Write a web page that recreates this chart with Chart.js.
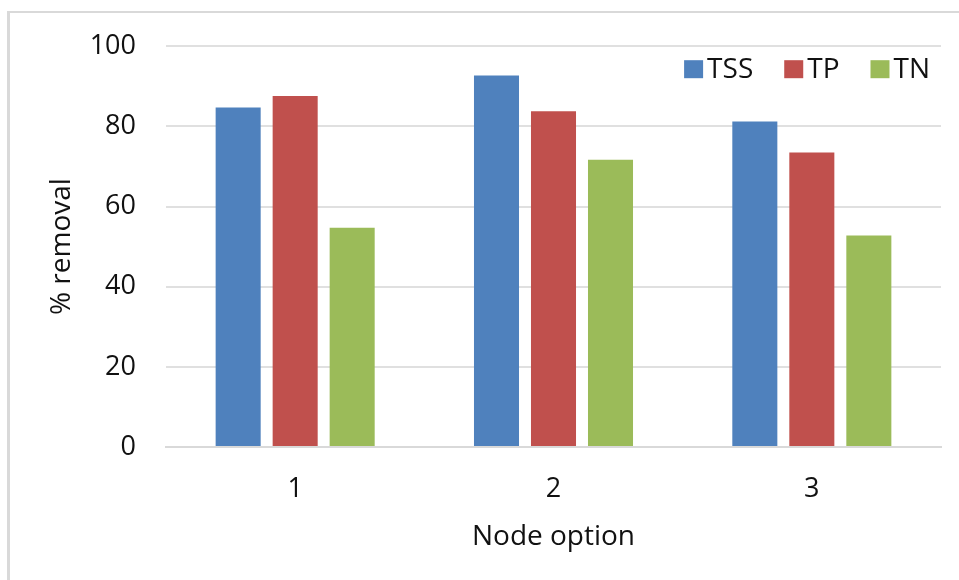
<!DOCTYPE html>
<html>
<head>
<meta charset="utf-8">
<script src="https://cdn.jsdelivr.net/npm/chart.js@4/dist/chart.umd.min.js"></script>
<style>
    html, body { margin: 0; padding: 0; background: #fff; }
    #wrap { position: relative; width: 959px; height: 580px; overflow: hidden; }
    #frame { position: absolute; left: 7px; top: 11px; right: 0; bottom: 0;
             border-top: 2px solid #d9d9d9; border-left: 3px solid #d9d9d9; }
    canvas { position: absolute; left: 0; top: 0; }
</style>
</head>
<body>
<div id="wrap">
    <div id="frame"></div>
    <canvas id="removalChart" width="959" height="580"></canvas>
</div>
<script>
// Removal efficiency per node option
const nodeOptions = ['1', '2', '3'];
const tssValues = [84.7, 92.7, 81.2];
const tpValues = [87.6, 83.8, 73.5];
const tnValues = [54.7, 71.7, 52.8];
const seriesNames = ['TSS', 'TP', 'TN'];
const seriesColors = ['#4f81bd', '#c0504d', '#9bbb59'];

const FONT = "'Open Sans', sans-serif";
const TEXT_COLOR = '#111';

// legend drawn inside the plot, top right
const insideLegend = {
    id: 'insideLegend',
    afterDraw(chart) {
        const ctx = chart.ctx;
        const area = chart.chartArea;
        const box = 18, gapText = 5, gapItem = 31;
        ctx.save();
        ctx.font = '28px ' + FONT;
        ctx.textBaseline = 'middle';
        ctx.textAlign = 'left';
        const items = chart.data.datasets.map(ds => ({
            label: ds.label,
            color: ds.backgroundColor,
            w: ctx.measureText(ds.label).width
        }));
        let total = 0;
        items.forEach((it, i) => {
            total += box + gapText + it.w + (i < items.length - 1 ? gapItem : 0);
        });
        let x = area.right - 11 - total;
        const cy = area.top + 23;
        items.forEach(it => {
            ctx.fillStyle = it.color;
            ctx.fillRect(x, cy - box / 2, box + 1, box);
            ctx.fillStyle = TEXT_COLOR;
            ctx.fillText(it.label, x + box + gapText, cy + 1);
            x += box + gapText + it.w + gapItem;
        });
        ctx.restore();
    }
};

document.addEventListener('DOMContentLoaded', function() {
    initChart();
});

function initChart() {
    const ctx = document.getElementById('removalChart').getContext('2d');
    const values = [tssValues, tpValues, tnValues];

    new Chart(ctx, {
        type: 'bar',
        data: {
            labels: nodeOptions,
            datasets: seriesNames.map((name, i) => ({
                label: name,
                data: values[i],
                backgroundColor: seriesColors[i],
                borderWidth: 0,
                categoryPercentage: 0.662,
                barPercentage: 0.79
            }))
        },
        options: {
            responsive: false,
            animation: false,
            layout: { padding: { left: 0, top: 45, right: 18, bottom: 0 } },
            plugins: {
                legend: { display: false },
                tooltip: { enabled: false }
            },
            scales: {
                x: {
                    grid: { display: false, drawTicks: false },
                    border: { display: true, color: '#d9d9d9', width: 2 },
                    ticks: {
                        color: TEXT_COLOR,
                        padding: 26,
                        font: { family: FONT, size: 27 }
                    },
                    title: {
                        display: true,
                        text: 'Node option',
                        color: TEXT_COLOR,
                        padding: { top: 0, bottom: 26 },
                        font: { family: FONT, size: 28 }
                    },
                    afterFit: scale => { scale.height = 133; }
                },
                y: {
                    min: 0,
                    max: 100,
                    grid: { color: '#e0e0e0', lineWidth: 2, drawTicks: false },
                    border: { display: false },
                    ticks: {
                        stepSize: 20,
                        color: TEXT_COLOR,
                        padding: 30,
                        font: { family: FONT, size: 27 }
                    },
                    title: {
                        display: true,
                        text: '% removal',
                        color: TEXT_COLOR,
                        padding: { top: 45, bottom: 0 },
                        font: { family: FONT, size: 28 }
                    },
                    afterFit: scale => { scale.width = 166; }
                }
            }
        },
        plugins: [insideLegend]
    });
}
</script>
</body>
</html>
